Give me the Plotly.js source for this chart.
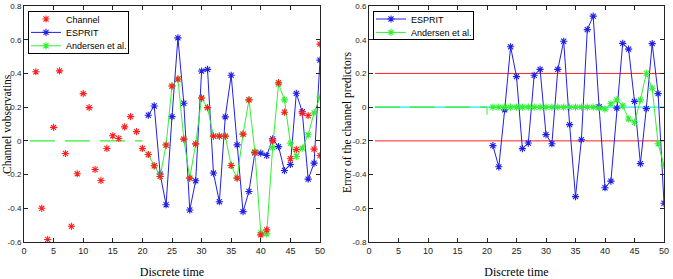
<!DOCTYPE html>
<html>
<head>
<meta charset="utf-8">
<script src="https://cdn.plot.ly/plotly-3.0.1.min.js"></script>
<style>
  html, body { margin: 0; padding: 0; background: #ffffff; }
  #chart { width: 673px; height: 279px; }
</style>
</head>
<body>
<div id="chart"></div>
<script>
// ---- data -------------------------------------------------------------
// time steps before the predictors start (warm-up period)
const warmupTime = [1, 2, 3, 4, 5, 6, 7, 8, 9, 10, 11, 12, 13, 14, 15, 16, 17, 18, 19, 20];
const warmupLevel = [0, 0, 0, 0, 0, 0, 0, 0, 0, 0, 0, 0, 0, 0, 0, 0, 0, 0, 0, 0];

// time steps where the predictors run
const predTime = [21, 22, 23, 24, 25, 26, 27, 28, 29, 30, 31, 32, 33, 34, 35,
                  36, 37, 38, 39, 40, 41, 42, 43, 44, 45, 46, 47, 48, 49, 50];

// channel observations
const channelTime = [2, 3, 4, 5, 6, 7, 8, 9, 10, 11, 12, 13, 14, 15, 16, 17, 18, 19, 20,
                     21, 22, 23, 24, 25, 26, 27, 28, 29, 30, 31, 32, 33, 34, 35,
                     36, 37, 38, 39, 40, 41, 42, 43, 44, 45, 46, 47, 48, 49, 50, 50];
const channelValues = [0.41, -0.40, -0.585, 0.08, 0.415, -0.075, -0.507, -0.195, 0.28, 0.197,
                       -0.17, -0.235, -0.045, 0.03, 0.014, 0.083, 0.144, 0.055, -0.045,
                       -0.081, -0.148, -0.211, -0.025, 0.325, 0.367, 0.01, -0.221, -0.018, 0.254,
                       0.197, 0.028, 0.028, 0.028, -0.146, -0.221, 0.04, 0.243, -0.069, -0.558,
                       -0.528, 0.0, 0.345, 0.17, -0.106, -0.051, 0.164, 0.15, -0.049, -0.087, 0.574];

// predicted channel
const espritPred = [0.152, 0.207, -0.197, -0.379, 0.144, 0.611, 0.223, -0.41, -0.237, 0.414,
                    0.424, -0.191, -0.361, 0.142, 0.389, -0.024, -0.42, -0.30, -0.071, -0.073,
                    -0.087, 0.012, -0.034, -0.176, -0.14, 0.282, 0.173, -0.227, -0.132, 0.479];
const andersenPred = [-0.081, -0.148, -0.211, -0.025, 0.325, 0.367, 0.01, -0.221, -0.018, 0.254,
                      0.197, 0.028, 0.028, 0.028, -0.146, -0.221, 0.04, 0.243, -0.064, -0.546,
                      -0.552, -0.04, 0.337, 0.243, -0.014, -0.093, -0.043, 0.036, 0.167, 0.259];

// prediction errors
const espritError = [-0.228, -0.354, -0.016, 0.358, 0.181, -0.246, -0.213, 0.189, 0.224, -0.163,
                     -0.217, 0.224, 0.391, -0.104, -0.531, -0.193, 0.46, 0.54, 0.002, -0.478,
                     -0.439, -0.006, 0.378, 0.344, 0.034, -0.335, -0.009, 0.377, 0.08, -0.57];
const andersenError = [0, 0, 0, 0, 0, 0, 0, 0, 0, 0,
                       0, 0, 0, 0, 0, 0, 0, 0, -0.005, -0.012,
                       0.02, 0.043, 0.008, -0.07, -0.09, 0.043, 0.2, 0.112, -0.217, -0.345];
const andersenStepTime = [20, 20];
const andersenStepError = [0, -0.045];

// error thresholds and reference level
const boundTime = [1, 50];
const upperBound = [0.2, 0.2];
const lowerBound = [-0.2, -0.2];
const zeroLevel = [0, 0];

// ticks
const timeTicks = [0, 5, 10, 15, 20, 25, 30, 35, 40, 45, 50];
const timeTickText = ['0', '5', '10', '15', '20', '25', '30', '35', '40', '45', '50'];
const obsTicks = [-0.6, -0.4, -0.2, 0, 0.2, 0.4, 0.6, 0.8];
const obsTickText = ['-0.6', '-0.4', '-0.2', '0', '0.2', '0.4', '0.6', '0.8'];
const errTicks = [-0.8, -0.6, -0.4, -0.2, 0, 0.2, 0.4, 0.6];
const errTickText = ['-0.8', '-0.6', '-0.4', '-0.2', '0', '0.2', '0.4', '0.6'];

// ---- styles -----------------------------------------------------------
const RED = '#ff2020';
const BLUE = '#2020e6';
const GREEN = '#33f033';
const star = (c) => ({ symbol: 'asterisk-open', size: 6, color: c, line: { color: c, width: 1.1 } });

const traces = [
  // left panel: channel and predictions
  { x: warmupTime, y: warmupLevel, xaxis: 'x', yaxis: 'y', mode: 'lines',
    line: { color: GREEN, width: 1.2, dash: '25px,10px' }, showlegend: false, hoverinfo: 'skip' },
  { x: predTime, y: espritPred, xaxis: 'x', yaxis: 'y', mode: 'lines+markers', name: 'ESPRIT',
    line: { color: BLUE, width: 1 }, marker: star(BLUE), legend: 'legend', legendrank: 2 },
  { x: predTime, y: andersenPred, xaxis: 'x', yaxis: 'y', mode: 'lines+markers', name: 'Andersen et al.',
    line: { color: GREEN, width: 1 }, marker: star(GREEN), legend: 'legend', legendrank: 3 },
  { x: channelTime, y: channelValues, xaxis: 'x', yaxis: 'y', mode: 'markers', name: 'Channel',
    marker: star(RED), legend: 'legend', legendrank: 1 },

  // right panel: prediction errors
  { x: boundTime, y: upperBound, xaxis: 'x2', yaxis: 'y2', mode: 'lines',
    line: { color: RED, width: 1 }, showlegend: false, hoverinfo: 'skip' },
  { x: boundTime, y: lowerBound, xaxis: 'x2', yaxis: 'y2', mode: 'lines',
    line: { color: RED, width: 1 }, showlegend: false, hoverinfo: 'skip' },
  { x: boundTime, y: zeroLevel, xaxis: 'x2', yaxis: 'y2', mode: 'lines',
    line: { color: '#22e8f0', width: 1.2 }, showlegend: false, hoverinfo: 'skip' },
  { x: warmupTime, y: warmupLevel, xaxis: 'x2', yaxis: 'y2', mode: 'lines',
    line: { color: GREEN, width: 1.2, dash: '25px,10px' }, showlegend: false, hoverinfo: 'skip' },
  { x: andersenStepTime, y: andersenStepError, xaxis: 'x2', yaxis: 'y2', mode: 'lines',
    line: { color: GREEN, width: 1 }, showlegend: false, hoverinfo: 'skip' },
  { x: predTime, y: espritError, xaxis: 'x2', yaxis: 'y2', mode: 'lines+markers', name: 'ESPRIT',
    line: { color: BLUE, width: 1 }, marker: star(BLUE), legend: 'legend2' },
  { x: predTime, y: andersenError, xaxis: 'x2', yaxis: 'y2', mode: 'lines+markers', name: 'Andersen et al.',
    line: { color: GREEN, width: 1 }, marker: star(GREEN), legend: 'legend2' }
];

const xTickFont = { family: 'Liberation Sans, Arial, sans-serif', size: 9, color: '#222' };
const yTickFont = { family: 'Liberation Sans, Arial, sans-serif', size: 8, color: '#222' };
const titleFont = { family: 'Liberation Serif, Times New Roman, serif', size: 12, color: '#000' };
const yTitleFont = { family: 'Liberation Serif, Times New Roman, serif', size: 11.5, color: '#000' };
const legendFont = { family: 'Liberation Sans, Arial, sans-serif', size: 9, color: '#000' };

function frame(extra) {
  return Object.assign({
    showline: true, linecolor: '#222', linewidth: 1, mirror: 'ticks',
    ticks: 'inside', ticklen: 4, tickwidth: 1, tickcolor: '#222',
    showgrid: false, zeroline: false, automargin: false
  }, extra);
}

const W = 673, H = 279, MT = 6, MB = 37, PH = H - MT - MB;

const layout = {
  width: W, height: H,
  margin: { l: 0, r: 0, t: MT, b: MB },
  paper_bgcolor: '#ffffff', plot_bgcolor: '#ffffff',
  showlegend: true,
  xaxis: frame({ domain: [24 / W, 320 / W], range: [0, 50], tickvals: timeTicks, ticktext: timeTickText,
                 tickfont: xTickFont, anchor: 'y', title: { text: 'Discrete time', font: titleFont } }),
  yaxis: frame({ domain: [0, 1], range: [-0.6, 0.8], tickvals: obsTicks, ticktext: obsTickText,
                 tickfont: yTickFont, anchor: 'x', ticklabelstandoff: 0 }),
  xaxis2: frame({ domain: [369 / W, 664 / W], range: [0, 50], tickvals: timeTicks, ticktext: timeTickText,
                  tickfont: xTickFont, anchor: 'y2', title: { text: 'Discrete time', font: titleFont } }),
  yaxis2: frame({ domain: [0, 1], range: [-0.8, 0.6], tickvals: errTicks, ticktext: errTickText,
                  tickfont: yTickFont, anchor: 'x2', ticklabelstandoff: 0 }),
  // vertical axis titles, set just left of each panel's tick labels
  annotations: [
    { text: 'Channel vobservatins', textangle: -90, font: yTitleFont, showarrow: false,
      xref: 'paper', yref: 'paper', x: 0, y: 0.5, xanchor: 'left', yanchor: 'middle', borderpad: 0 },
    { text: 'Error of the channel predictors', textangle: -90, font: yTitleFont, showarrow: false,
      xref: 'paper', yref: 'paper', x: 340 / W, y: 0.506, xanchor: 'left', yanchor: 'middle', borderpad: 0 }
  ],
  legend: {
    x: 28 / W, y: (PH - 5) / PH, xanchor: 'left', yanchor: 'top',
    bgcolor: '#ffffff', bordercolor: '#000', borderwidth: 1,
    font: legendFont, itemwidth: 30, tracegroupgap: 0
  },
  legend2: {
    x: 373 / W, y: (PH - 5) / PH, xanchor: 'left', yanchor: 'top',
    bgcolor: '#ffffff', bordercolor: '#000', borderwidth: 1,
    font: legendFont, itemwidth: 30, tracegroupgap: 0
  }
};

// Compact legend rows: tighter line spacing and a narrower box
function compactLegend(gd, id, rowStep, firstRow, boxWidth) {
  const lg = gd.querySelector('g.' + id);
  if (!lg) return;
  const rows = lg.querySelectorAll('g.traces');
  rows.forEach((row, i) => {
    const m = /translate\(\s*([-\d.]+)[ ,]+([-\d.]+)/.exec(row.getAttribute('transform') || '');
    const x = m ? parseFloat(m[1]) : 0;
    row.setAttribute('transform', 'translate(' + (x - 3) + ',' + (firstRow + i * rowStep) + ')');
  });
  const bg = lg.querySelector('rect.bg');
  if (bg) {
    bg.setAttribute('height', firstRow * 2 + (rows.length - 1) * rowStep - 1);
    bg.setAttribute('width', boxWidth);
  }
}

Plotly.newPlot('chart', traces, layout, { staticPlot: true, displayModeBar: false }).then((gd) => {
  compactLegend(gd, 'legend', 13.4, 8, 100);
  compactLegend(gd, 'legend2', 13.4, 8, 100);
});
</script>
</body>
</html>
